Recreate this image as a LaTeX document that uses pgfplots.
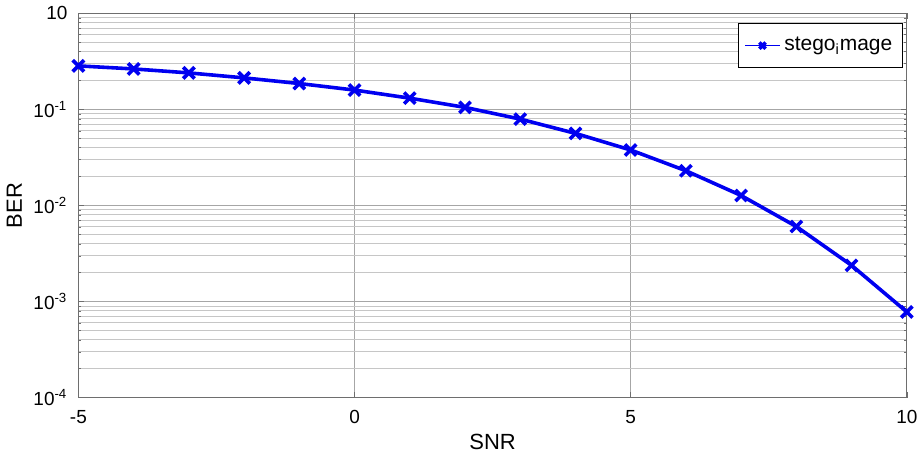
\documentclass[border=0pt]{standalone}
\usepackage{fontspec}
\setmainfont{Liberation Sans}
\usepackage{pgfplots}
\pgfplotsset{compat=1.18}
\definecolor{lineBlue}{RGB}{0,0,240}
\definecolor{frameGray}{RGB}{110,110,110}

\begin{document}
\begin{tikzpicture}
\begin{axis}[
  scale only axis,
  width=415pt,
  height=192.5pt,
  ymode=log,
  xmin=-5, xmax=10,
  ymin=1e-4, ymax=1,
  xtick={-5,0,5,10},
  ytick={1,1e-1,1e-2,1e-3,1e-4},
  minor ytick={2e-4,3e-4,4e-4,5e-4,6e-4,7e-4,8e-4,9e-4,
    2e-3,3e-3,4e-3,5e-3,6e-3,7e-3,8e-3,9e-3,
    2e-2,3e-2,4e-2,5e-2,6e-2,7e-2,8e-2,9e-2,
    2e-1,3e-1,4e-1,5e-1,6e-1,7e-1,8e-1,9e-1},
  yticklabels={10,10\textsuperscript{-1},10\textsuperscript{-2},10\textsuperscript{-3},10\textsuperscript{-4}},
  xticklabels={-5,0,5,10},
  tick align=inside,
  tick pos=both,
  major tick length=3pt,
  minor tick length=1.5pt,
  axis line style={draw=frameGray},
  tick style={draw=frameGray},
  grid=both,
  major grid style={draw=gray!70, line width=0.4pt},
  minor grid style={draw=gray!45, line width=0.4pt},
  tick label style={font=\fontsize{9.5}{11}\selectfont},
  yticklabel style={xshift=-2pt},
  xticklabel style={yshift=-3pt},
  xlabel={SNR},
  ylabel={BER},
  label style={font=\fontsize{11}{13}\selectfont},
  xlabel style={yshift=2pt},
  ylabel style={yshift=-1pt},
  legend style={at={(0.995,0.975)}, anchor=north east, draw=black, fill=white,
    font=\fontsize{10.5}{12}\selectfont, inner xsep=3pt, inner ysep=5pt, legend cell align=left},
  legend image code/.code={
    \draw[#1, line width=0.8pt] (0cm,0cm) -- (0.6cm,0cm);
    \draw[#1, line width=0.6pt, mark size=2.2pt] plot coordinates {(0.3cm,0cm)};
  },
]
\addplot[lineBlue, line width=1.8pt, mark=x, mark size=4pt,
  mark options={line width=1.8pt}] coordinates {
  (-5,0.284)
  (-4,0.264)
  (-3,0.240)
  (-2,0.213)
  (-1,0.186)
  (0,0.159)
  (1,0.131)
  (2,0.105)
  (3,0.0793)
  (4,0.0563)
  (5,0.0378)
  (6,0.0230)
  (7,0.0127)
  (8,0.00604)
  (9,0.00238)
  (10,0.00078)
};
\addlegendentry{stego\textsubscript{i}mage}
\end{axis}
\end{tikzpicture}
\end{document}
